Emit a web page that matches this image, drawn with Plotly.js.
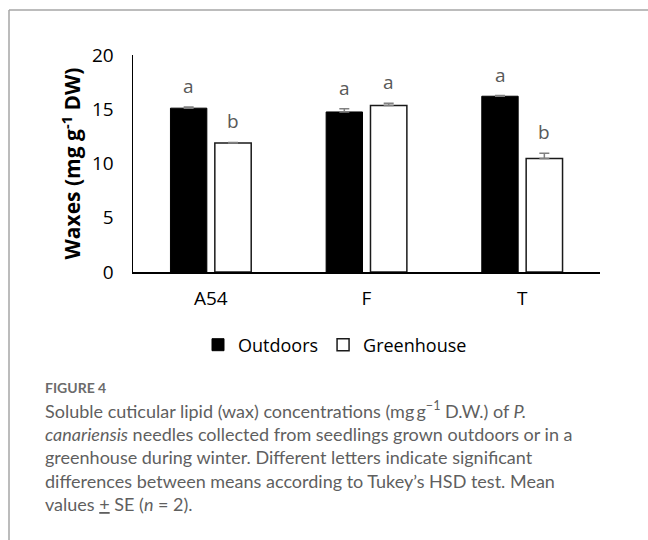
<!DOCTYPE html>
<html><head><meta charset="utf-8">
<script src="https://cdn.plot.ly/plotly-3.0.1.min.js"></script>
<style>html,body{margin:0;padding:0;background:#fff}</style>
</head><body>
<div id="chart" style="width:648px;height:540px"></div>
<script>
const categories = ['A54', 'F', 'T'];
const outdoors = [15.1, 14.75, 16.2];
const outdoorsSE = [0.1, 0.3, 0.06];
const greenhouse = [11.9, 15.35, 10.45];
const greenhouseSE = [0.04, 0.2, 0.5];
const noLower = [0, 0, 0];
const outdoorsLetters = ['a', 'a', 'a'];
const greenhouseLetters = ['b', 'a', 'b'];
const yTicks = [0, 5, 10, 15, 20];
const captionHead = 'FIGURE 4';
const captionLines = [
  'Soluble cuticular lipid (wax) concentrations (mg\u2009g<sup>\u22121</sup> D.W.) of <i>P.</i>',
  '<i>canariensis</i> needles collected from seedlings grown outdoors or in a',
  'greenhouse during winter. Different letters indicate significant',
  'differences between means according to Tukey\u2019s HSD test. Mean',
  'values <u>+</u> SE (<i>n</i> = 2).'
];

const W = 648, H = 540;
const M = {l: 133, r: 48, t: 55, b: 268};
const PW = W - M.l - M.r, PH = H - M.t - M.b;
const px = p => (p - M.l) / PW;
const py = p => (M.t + PH - p) / PH;

const FONT = 'Open Sans, Liberation Sans, sans-serif';

const traces = [
  {
    type: 'bar', name: 'Outdoors', x: categories, y: outdoors,
    marker: {color: '#000000', line: {color: '#000000', width: 1}},
    error_y: {type: 'data', symmetric: false, array: outdoorsSE, arrayminus: noLower,
              color: '#808080', thickness: 1.5, width: 5}
  },
  {
    type: 'bar', name: 'Greenhouse', x: categories, y: greenhouse,
    marker: {color: '#ffffff', line: {color: '#1a1a1a', width: 1.5}},
    error_y: {type: 'data', symmetric: false, array: greenhouseSE, arrayminus: noLower,
              color: '#808080', thickness: 1.5, width: 5}
  }
];

const annotations = [];
categories.forEach((c, i) => {
  annotations.push({x: c, y: outdoors[i] + outdoorsSE[i], xref: 'x', yref: 'y',
    text: outdoorsLetters[i], showarrow: false, xshift: -22, yshift: 21, yanchor: 'middle',
    font: {family: FONT, size: 19, color: '#595959'}});
  annotations.push({x: c, y: greenhouse[i] + greenhouseSE[i], xref: 'x', yref: 'y',
    text: greenhouseLetters[i], showarrow: false, xshift: 22, yshift: 21, yanchor: 'middle',
    font: {family: FONT, size: 19, color: '#595959'}});
});
annotations.push({xref: 'paper', yref: 'paper', x: px(43), y: py(387), xanchor: 'left', yanchor: 'middle',
  text: captionHead, showarrow: false, font: {family: 'Lato, sans-serif', size: 14, color: '#6b6b6b', weight: 'bold'}});
const lineY = [410, 433.5, 457, 480.5, 504];
captionLines.forEach((t, i) => {
  annotations.push({xref: 'paper', yref: 'paper', x: px(43), y: py(lineY[i]), xanchor: 'left', yanchor: 'middle',
    text: t, showarrow: false, align: 'left', font: {family: 'Lato, sans-serif', size: 18, color: '#5f5f5f'}});
});

const shapes = [
  {type: 'line', xref: 'paper', yref: 'paper', x0: px(9), x1: px(W), y0: py(10), y1: py(10),
   line: {color: '#a6a6a6', width: 1.5}},
  {type: 'line', xref: 'paper', yref: 'paper', x0: px(9), x1: px(9), y0: py(10), y1: py(H),
   line: {color: '#a6a6a6', width: 1.5}}
];

const layout = {
  width: W, height: H, autosize: false, margin: M,
  paper_bgcolor: '#ffffff', plot_bgcolor: '#ffffff',
  font: {family: FONT, size: 19, color: '#000'},
  barmode: 'group', bargap: 0.43, bargroupgap: 0.18,
  showlegend: true,
  legend: {orientation: 'h', x: px(335), xanchor: 'center', y: py(345), yanchor: 'middle',
           font: {family: FONT, size: 18, color: '#000'}, itemwidth: 30, traceorder: 'normal'},
  xaxis: {type: 'category', showline: true, linecolor: '#000', linewidth: 1.5, ticks: '',
          showgrid: false, zeroline: false, tickfont: {size: 19}, ticklabelstandoff: 9},
  yaxis: {range: [0, 20], tickvals: yTicks, showline: true, linecolor: '#000', linewidth: 1.5,
          ticks: '', showgrid: false, zeroline: false, tickfont: {size: 19}, ticklabelstandoff: 14,
          title: {text: 'Waxes (mg g<sup>-1</sup> DW)', font: {size: 21, weight: 'bold'}, standoff: 5}},
  annotations: annotations,
  shapes: shapes
};

Plotly.newPlot('chart', traces, layout, {displayModeBar: false, staticPlot: true});
</script>
</body></html>
